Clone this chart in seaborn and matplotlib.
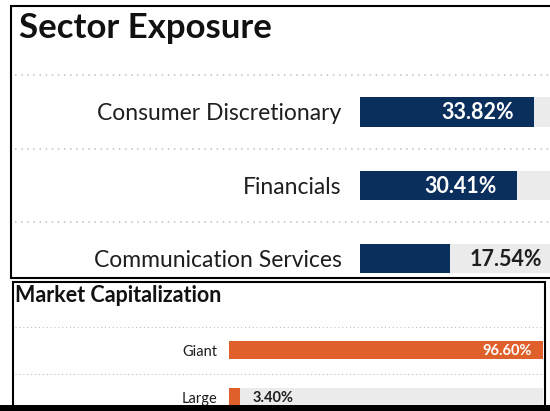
import matplotlib
matplotlib.use("Agg")
import matplotlib.pyplot as plt
import seaborn as sns
import pandas as pd
from matplotlib.lines import Line2D
from matplotlib.patches import Rectangle
from matplotlib import transforms

# ---- data -------------------------------------------------------------
sector_names = ["Consumer Discretionary", "Financials", "Communication Services"]
sector_weights = [33.82, 30.41, 17.54]
cap_names = ["Giant", "Large"]
cap_weights = [96.60, 3.40]
full_scale = 100.0

# ---- style --------------------------------------------------------------
NAVY = "#0B2F5C"
ORANGE = "#DF602B"
TRACK = "#EBEBEB"
DOTS = "#BEBEBE"
INK = "#1E1E1E"

W, H = 550, 411
sns.set_theme(style="white")
plt.rcParams["font.family"] = ["Lato", "DejaVu Sans"]

fig = plt.figure(figsize=(W / 100, H / 100), dpi=100)
PT = 0.72  # points per pixel at 100 dpi


def fx(x):
    return x / W


def fy(y):
    return 1 - y / H


def panel_axes(left, right, top, bottom):
    return fig.add_axes([fx(left), fy(bottom), fx(right) - fx(left), fy(top) - fy(bottom)])


def draw_panel(ax, names, weights, color, bar_h, xmax, ylim, label_size,
               value_size, tick_pad, in_pad, out_pad, base_drop, dot_x, dot_style, dot_lw):
    df = pd.DataFrame({"name": names, "weight": weights,
                       "track": [full_scale] * len(names)})
    sns.barplot(data=df, x="track", y="name", orient="h", color=TRACK,
                saturation=1, width=bar_h, errorbar=None, ax=ax)
    sns.barplot(data=df, x="weight", y="name", orient="h", color=color,
                saturation=1, width=bar_h, errorbar=None, ax=ax)
    for p in ax.patches:
        p.set_linewidth(0)
    ax.set_xlim(0, xmax)
    ax.set_ylim(*ylim)
    ax.set_xlabel("")
    ax.set_ylabel("")
    ax.set_xticks([])
    ax.set_yticks(range(len(names)))
    ax.set_yticklabels(names, fontsize=label_size, color=INK)
    ax.tick_params(axis="y", length=0, pad=tick_pad * PT)
    for s in ax.spines.values():
        s.set_visible(False)
    ax.patch.set_alpha(0)

    for i, v in enumerate(weights):
        txt = f"{v:.2f}%"
        if v / xmax > 0.6:
            ax.annotate(txt, xy=(v, i), xytext=(-in_pad * PT, -base_drop * PT),
                        textcoords="offset points", ha="right", va="baseline",
                        color="white", fontsize=value_size, fontweight="bold")
        else:
            ax.annotate(txt, xy=(v, i), xytext=(out_pad * PT, -base_drop * PT),
                        textcoords="offset points", ha="left", va="baseline",
                        color=INK, fontsize=value_size, fontweight="bold")

    # dotted separators between rows, running across the whole panel
    tr = transforms.blended_transform_factory(fig.transFigure, ax.transData)
    for k in range(len(names)):
        ax.add_line(Line2D([fx(dot_x[0]), fx(dot_x[1])], [k - 0.5, k - 0.5],
                           transform=tr, color=DOTS, lw=dot_lw,
                           linestyle=dot_style, clip_on=False))


# ---- Sector Exposure panel -------------------------------------------------
ax1 = panel_axes(359.5, 550, 75, 277)
draw_panel(ax1, sector_names, sector_weights, NAVY, bar_h=0.40,
           xmax=190.5 / 5.17, ylim=(2.248, -0.504), label_size=16.5,
           value_size=15.5, tick_pad=18, in_pad=20, out_pad=19, base_drop=7.2,
           dot_x=(15, 550), dot_style=(0, (1, 3)), dot_lw=1.1)
fig.text(fx(19), fy(38), "Sector Exposure", fontsize=25, fontweight="bold",
         color="#111111", ha="left", va="baseline")

# ---- Market Capitalization panel -------------------------------------------
ax2 = panel_axes(229.3, 543.5, 327.3, 405)
draw_panel(ax2, cap_names, cap_weights, ORANGE, bar_h=0.38,
           xmax=(543.5 - 229.3) / 3.244, ylim=(1.17, -0.483), label_size=10.5,
           value_size=10.5, tick_pad=12, in_pad=11, out_pad=12, base_drop=5,
           dot_x=(15, 543), dot_style=(0, (1, 2.5)), dot_lw=0.8)
fig.text(fx(15), fy(302.3), "Market Capitalization", fontsize=15.5,
         fontweight="bold", color="#111111", ha="left", va="baseline")

# ---- panel frames ------------------------------------------------------------
def frame_line(xs, ys, lw=1.5):
    fig.add_artist(Line2D([fx(x) for x in xs], [fy(y) for y in ys],
                          transform=fig.transFigure, color="black", lw=lw,
                          solid_capstyle="butt"))


frame_line((10, 550), (6, 6))
frame_line((10.8, 10.8), (5.3, 278.4))
frame_line((10, 550), (277.7, 277.7))
frame_line((12, 546), (281.7, 281.7))
frame_line((12.8, 12.8), (281, 405))
frame_line((545.2, 545.2), (281, 405))
fig.add_artist(Rectangle((0, 0), 1, fy(405), transform=fig.transFigure,
                         color="black", lw=0, zorder=5))

fig.savefig("out.png", dpi=100)
